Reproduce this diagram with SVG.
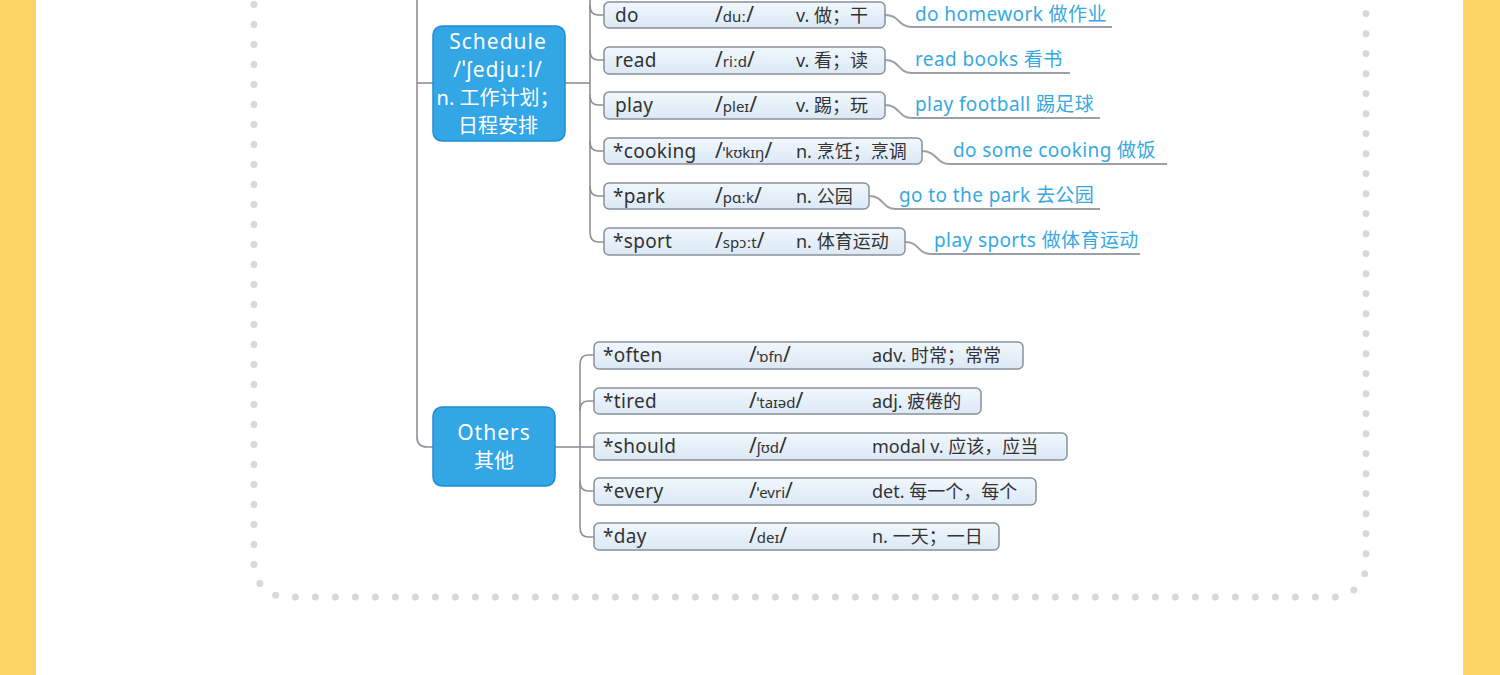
<svg xmlns="http://www.w3.org/2000/svg" width="1500" height="675" viewBox="0 0 1500 675">
<defs>
<linearGradient id="wg" x1="0" y1="0" x2="0" y2="1">
<stop offset="0" stop-color="#f1f7fd"/>
<stop offset="1" stop-color="#dbe9f6"/>
</linearGradient>
<style>
text{font-family:"Noto Sans","Noto Sans CJK SC",sans-serif;}
.band{fill:#fcd468;}
.dots{fill:none;stroke:#d9d9d9;stroke-width:7;stroke-dasharray:0 20;stroke-linecap:round;}
.cat{fill:#33a6e6;stroke:#1f8fd0;stroke-width:1.5;}
.cat-t{fill:#ffffff;font-size:20px;text-anchor:middle;}
.lat{font-size:21px;letter-spacing:1px;}
.word{fill:url(#wg);stroke:#8a9099;stroke-width:1.5;}
.wt{fill:#333333;font-size:19px;letter-spacing:0.3px;}
.ph{fill:#333333;font-size:21px;}
.ph tspan.i{font-size:15px;}
.mn{fill:#333333;font-size:18px;}
.phr{fill:#36a9e1;font-size:19px;letter-spacing:0.4px;}
.ln{fill:none;stroke:#8c9096;stroke-width:1.6;}
.ul{fill:none;stroke:#9aa0a6;stroke-width:2;}
</style>
</defs>
<rect x="0" y="0" width="1500" height="675" fill="#ffffff"/>
<rect class="band" x="0" y="0" width="36" height="675"/>
<rect class="band" x="1463" y="0" width="37" height="675"/>
<rect class="dots" x="254" y="-120" width="1112" height="717" rx="32"/>

<g id="connectors">
<path class="ln" d="M417 -10 V437 Q417 447 427 447 H433"/>
<path class="ln" d="M417 83 H433"/>
<path class="ln" d="M565 83 H590"/>
<path class="ln" d="M590 -10 V232 Q590 242 598 242 H604"/>
<path class="ln" d="M590 5 Q590 15 598 15 H604"/>
<path class="ln" d="M590 50 Q590 60 598 60 H604"/>
<path class="ln" d="M590 95 Q590 105 598 105 H604"/>
<path class="ln" d="M590 141 Q590 151 598 151 H604"/>
<path class="ln" d="M590 186 Q590 196 598 196 H604"/>
<path class="ln" d="M555 447 H580"/>
<path class="ln" d="M594 355 H588 Q580 355 580 365 V527 Q580 537 588 537 H594"/>
<path class="ln" d="M580 411 Q580 401 588 401 H594"/>
<path class="ln" d="M580 447 H594"/>
<path class="ln" d="M580 481 Q580 491 588 491 H594"/>
<path class="ul" d="M885 15 C900 15 898 27 912 27 H1112"/>
<path class="ul" d="M885 60 C900 60 898 73 912 73 H1070"/>
<path class="ul" d="M885 105 C900 105 898 118 912 118 H1100"/>
<path class="ul" d="M922 151 C937 151 936 164 950 164 H1167"/>
<path class="ul" d="M869 196 C884 196 882 209 896 209 H1100"/>
<path class="ul" d="M905 242 C920 242 917 254 931 254 H1140"/>
</g>

<g id="schedule">
<rect class="cat" x="433" y="26" width="132" height="115" rx="9"/>
<text class="cat-t lat" x="498" y="49">Schedule</text>
<text class="cat-t lat" x="498" y="77">/ˈʃedjuːl/</text>
<text class="cat-t" x="498" y="105">n. 工作计划；</text>
<text class="cat-t" x="498" y="133">日程安排</text>
</g>

<g id="others">
<rect class="cat" x="433" y="407" width="122" height="79" rx="9"/>
<text class="cat-t lat" x="494" y="440">Others</text>
<text class="cat-t" x="494" y="468">其他</text>
</g>

<g id="w-do">
<rect class="word" x="604" y="2" width="281" height="26" rx="5"/>
<text class="wt" x="615" y="22">do</text>
<text class="ph" x="715" y="22">/<tspan class="i">duː</tspan>/</text>
<text class="mn" x="796" y="22">v. 做；干</text>
</g>
<g id="w-read">
<rect class="word" x="604" y="47" width="281" height="27" rx="5"/>
<text class="wt" x="615" y="67">read</text>
<text class="ph" x="715" y="67">/<tspan class="i">riːd</tspan>/</text>
<text class="mn" x="796" y="67">v. 看；读</text>
</g>
<g id="w-play">
<rect class="word" x="604" y="92" width="281" height="27" rx="5"/>
<text class="wt" x="615" y="112">play</text>
<text class="ph" x="715" y="112">/<tspan class="i">pleɪ</tspan>/</text>
<text class="mn" x="796" y="112">v. 踢；玩</text>
</g>
<g id="w-cooking">
<rect class="word" x="604" y="138" width="318" height="26" rx="5"/>
<text class="wt" x="613" y="158">*cooking</text>
<text class="ph" x="715" y="158">/<tspan class="i">ˈkʊkɪŋ</tspan>/</text>
<text class="mn" x="796" y="158">n. 烹饪；烹调</text>
</g>
<g id="w-park">
<rect class="word" x="604" y="183" width="265" height="26" rx="5"/>
<text class="wt" x="613" y="203">*park</text>
<text class="ph" x="715" y="203">/<tspan class="i">pɑːk</tspan>/</text>
<text class="mn" x="796" y="203">n. 公园</text>
</g>
<g id="w-sport">
<rect class="word" x="604" y="228" width="301" height="27" rx="5"/>
<text class="wt" x="613" y="248">*sport</text>
<text class="ph" x="715" y="248">/<tspan class="i">spɔːt</tspan>/</text>
<text class="mn" x="796" y="248">n. 体育运动</text>
</g>

<g id="p-do"><text class="phr" x="915" y="21">do homework 做作业</text></g>
<g id="p-read"><text class="phr" x="915" y="66">read books 看书</text></g>
<g id="p-play"><text class="phr" x="915" y="111">play football 踢足球</text></g>
<g id="p-cooking"><text class="phr" x="953" y="157">do some cooking 做饭</text></g>
<g id="p-park"><text class="phr" x="899" y="202">go to the park 去公园</text></g>
<g id="p-sport"><text class="phr" x="934" y="247">play sports 做体育运动</text></g>

<g id="w-often">
<rect class="word" x="594" y="342" width="429" height="27" rx="5"/>
<text class="wt" x="603" y="362">*often</text>
<text class="ph" x="749" y="362">/<tspan class="i">ˈɒfn</tspan>/</text>
<text class="mn" x="872" y="362">adv. 时常；常常</text>
</g>
<g id="w-tired">
<rect class="word" x="594" y="388" width="387" height="26" rx="5"/>
<text class="wt" x="603" y="408">*tired</text>
<text class="ph" x="749" y="408">/<tspan class="i">ˈtaɪəd</tspan>/</text>
<text class="mn" x="872" y="408">adj. 疲倦的</text>
</g>
<g id="w-should">
<rect class="word" x="594" y="433" width="473" height="27" rx="5"/>
<text class="wt" x="603" y="453">*should</text>
<text class="ph" x="749" y="453">/<tspan class="i">ʃʊd</tspan>/</text>
<text class="mn" x="872" y="453">modal v. 应该，应当</text>
</g>
<g id="w-every">
<rect class="word" x="594" y="478" width="442" height="27" rx="5"/>
<text class="wt" x="603" y="498">*every</text>
<text class="ph" x="749" y="498">/<tspan class="i">ˈevri</tspan>/</text>
<text class="mn" x="872" y="498">det. 每一个，每个</text>
</g>
<g id="w-day">
<rect class="word" x="594" y="523" width="405" height="27" rx="5"/>
<text class="wt" x="603" y="543">*day</text>
<text class="ph" x="749" y="543">/<tspan class="i">deɪ</tspan>/</text>
<text class="mn" x="872" y="543">n. 一天；一日</text>
</g>
</svg>
